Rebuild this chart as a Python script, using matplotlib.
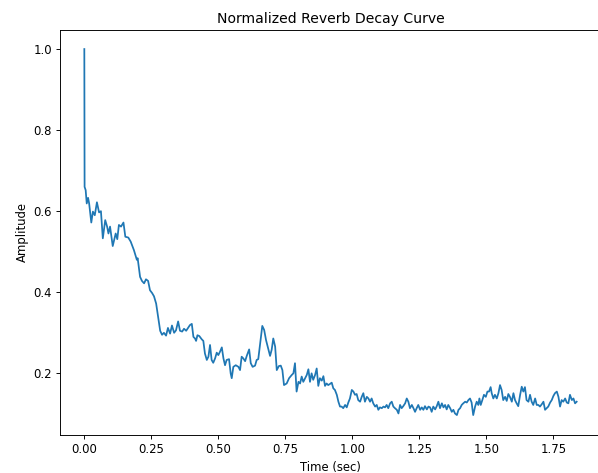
import matplotlib
matplotlib.use("Agg")
import matplotlib.pyplot as plt

# decay envelope samples: time (s) and normalized amplitude
time_sec = [
    0.000, 0.001, 0.005, 0.009, 0.014, 0.018, 0.026, 0.032, 0.039, 0.047,
    0.055, 0.062, 0.069, 0.078, 0.085, 0.090, 0.096, 0.106, 0.117, 0.123,
    0.129, 0.137, 0.146, 0.153, 0.164, 0.173, 0.185, 0.196, 0.199, 0.208,
    0.215, 0.223, 0.230, 0.238, 0.245, 0.253, 0.260, 0.268, 0.275, 0.283,
    0.290, 0.297, 0.305, 0.312, 0.320, 0.327, 0.335, 0.342, 0.350, 0.357,
    0.365, 0.372, 0.380, 0.387, 0.394, 0.401, 0.407, 0.413, 0.417, 0.422,
    0.429, 0.438, 0.444, 0.450, 0.457, 0.463, 0.469, 0.475, 0.481, 0.488,
    0.494, 0.500, 0.506, 0.513, 0.519, 0.525, 0.531, 0.540, 0.546, 0.550,
    0.556, 0.565, 0.575, 0.581, 0.587, 0.593, 0.600, 0.606, 0.615, 0.621,
    0.628, 0.637, 0.643, 0.649, 0.656, 0.664, 0.671, 0.678, 0.687, 0.693,
    0.699, 0.705, 0.712, 0.718, 0.726, 0.733, 0.739, 0.745, 0.755, 0.764,
    0.774, 0.780, 0.786, 0.792, 0.799, 0.805, 0.811, 0.817, 0.824, 0.830,
    0.836, 0.842, 0.848, 0.854, 0.861, 0.867, 0.873, 0.879, 0.886, 0.892,
    0.898, 0.904, 0.910, 0.917, 0.923, 0.929, 0.935, 0.942, 0.948, 0.954,
    0.960, 0.966, 0.973, 0.979, 0.985, 0.991, 0.998, 1.004, 1.010, 1.016,
    1.022, 1.029, 1.035, 1.041, 1.047, 1.054, 1.060, 1.066, 1.072, 1.078,
    1.085, 1.091, 1.097, 1.103, 1.110, 1.116, 1.122, 1.128, 1.134, 1.141,
    1.147, 1.153, 1.159, 1.166, 1.172, 1.178, 1.184, 1.190, 1.197, 1.203,
    1.209, 1.215, 1.222, 1.228, 1.234, 1.240, 1.246, 1.253, 1.259, 1.265,
    1.271, 1.278, 1.284, 1.290, 1.296, 1.302, 1.309, 1.315, 1.321, 1.327,
    1.334, 1.340, 1.346, 1.352, 1.358, 1.365, 1.371, 1.377, 1.383, 1.390,
    1.396, 1.402, 1.408, 1.414, 1.421, 1.427, 1.433, 1.439, 1.445, 1.451,
    1.458, 1.464, 1.470, 1.474, 1.479, 1.485, 1.491, 1.498, 1.504, 1.510,
    1.516, 1.520, 1.526, 1.532, 1.539, 1.545, 1.551, 1.557, 1.563, 1.570,
    1.576, 1.582, 1.588, 1.595, 1.601, 1.607, 1.613, 1.619, 1.626, 1.632,
    1.638, 1.644, 1.650, 1.657, 1.663, 1.669, 1.675, 1.682, 1.688, 1.694,
    1.700, 1.707, 1.713, 1.719, 1.725, 1.731, 1.738, 1.744, 1.750, 1.756,
    1.763, 1.769, 1.775, 1.781, 1.787, 1.794, 1.800, 1.806, 1.812, 1.819,
    1.825, 1.831, 1.837,
]

amplitude = [
    1.000, 0.660, 0.652, 0.619, 0.633, 0.619, 0.572, 0.599, 0.590, 0.622,
    0.597, 0.600, 0.533, 0.578, 0.562, 0.545, 0.562, 0.514, 0.545, 0.531,
    0.566, 0.562, 0.572, 0.537, 0.535, 0.525, 0.504, 0.480, 0.484, 0.438,
    0.428, 0.422, 0.432, 0.428, 0.405, 0.398, 0.390, 0.372, 0.340, 0.305,
    0.295, 0.300, 0.293, 0.312, 0.298, 0.318, 0.300, 0.306, 0.328, 0.305,
    0.303, 0.310, 0.305, 0.312, 0.319, 0.322, 0.290, 0.286, 0.280, 0.294,
    0.292, 0.284, 0.280, 0.249, 0.233, 0.241, 0.270, 0.233, 0.226, 0.237,
    0.251, 0.245, 0.253, 0.264, 0.237, 0.220, 0.233, 0.235, 0.200, 0.188,
    0.216, 0.220, 0.216, 0.208, 0.241, 0.237, 0.230, 0.243, 0.259, 0.225,
    0.216, 0.219, 0.233, 0.235, 0.274, 0.317, 0.307, 0.282, 0.258, 0.243,
    0.258, 0.286, 0.266, 0.208, 0.218, 0.219, 0.208, 0.171, 0.175, 0.188,
    0.196, 0.200, 0.225, 0.155, 0.179, 0.175, 0.192, 0.179, 0.188, 0.196,
    0.210, 0.179, 0.200, 0.184, 0.196, 0.212, 0.169, 0.188, 0.182, 0.193,
    0.169, 0.175, 0.171, 0.174, 0.177, 0.163, 0.159, 0.147, 0.130, 0.118,
    0.118, 0.114, 0.122, 0.116, 0.128, 0.138, 0.159, 0.155, 0.147, 0.149,
    0.134, 0.130, 0.142, 0.151, 0.130, 0.142, 0.138, 0.130, 0.138, 0.126,
    0.118, 0.122, 0.110, 0.116, 0.114, 0.118, 0.116, 0.122, 0.114, 0.126,
    0.130, 0.118, 0.114, 0.110, 0.101, 0.122, 0.114, 0.119, 0.126, 0.138,
    0.130, 0.114, 0.122, 0.114, 0.105, 0.114, 0.122, 0.110, 0.116, 0.110,
    0.119, 0.111, 0.118, 0.116, 0.105, 0.118, 0.111, 0.119, 0.130, 0.114,
    0.126, 0.116, 0.122, 0.111, 0.122, 0.114, 0.105, 0.110, 0.101, 0.097,
    0.110, 0.114, 0.122, 0.126, 0.130, 0.128, 0.134, 0.138, 0.128, 0.097,
    0.118, 0.130, 0.122, 0.138, 0.122, 0.134, 0.147, 0.142, 0.155, 0.155,
    0.166, 0.151, 0.138, 0.147, 0.138, 0.151, 0.171, 0.159, 0.134, 0.142,
    0.132, 0.149, 0.142, 0.130, 0.151, 0.134, 0.126, 0.119, 0.147, 0.167,
    0.155, 0.166, 0.134, 0.130, 0.147, 0.130, 0.122, 0.138, 0.122, 0.122,
    0.118, 0.124, 0.130, 0.110, 0.114, 0.118, 0.128, 0.134, 0.144, 0.151,
    0.155, 0.142, 0.118, 0.134, 0.130, 0.138, 0.128, 0.126, 0.147, 0.134,
    0.138, 0.126, 0.130,
]

# everything drawn a bit smaller than the matplotlib defaults
s = 0.84
plt.rcParams.update({
    "font.size": 10 * s,
    "axes.titlesize": 12 * s,
    "axes.labelsize": 10 * s,
    "xtick.labelsize": 10 * s,
    "ytick.labelsize": 10 * s,
    "axes.linewidth": 0.8 * s,
    "lines.linewidth": 1.5 * s,
    "xtick.major.size": 3.5 * s,
    "ytick.major.size": 3.5 * s,
    "xtick.major.width": 0.8 * s,
    "ytick.major.width": 0.8 * s,
    "xtick.major.pad": 3.5 * s,
    "ytick.major.pad": 3.5 * s,
    "axes.titlepad": 6.0 * s,
    "axes.labelpad": 4.0 * s,
})

fig = plt.figure(figsize=(5.98, 4.73), dpi=100)
ax = fig.add_axes([60.2 / 598, 38.3 / 473, 541.4 / 598, 404.7 / 473])

ax.plot(time_sec, amplitude)
ax.set_xlim(-0.09, 1.93)
ax.set_ylim(0.0486, 1.047)

ax.set_title("Normalized Reverb Decay Curve")
ax.set_xlabel("Time (sec)")
ax.set_ylabel("Amplitude")

fig.savefig("out.png", dpi=100)
